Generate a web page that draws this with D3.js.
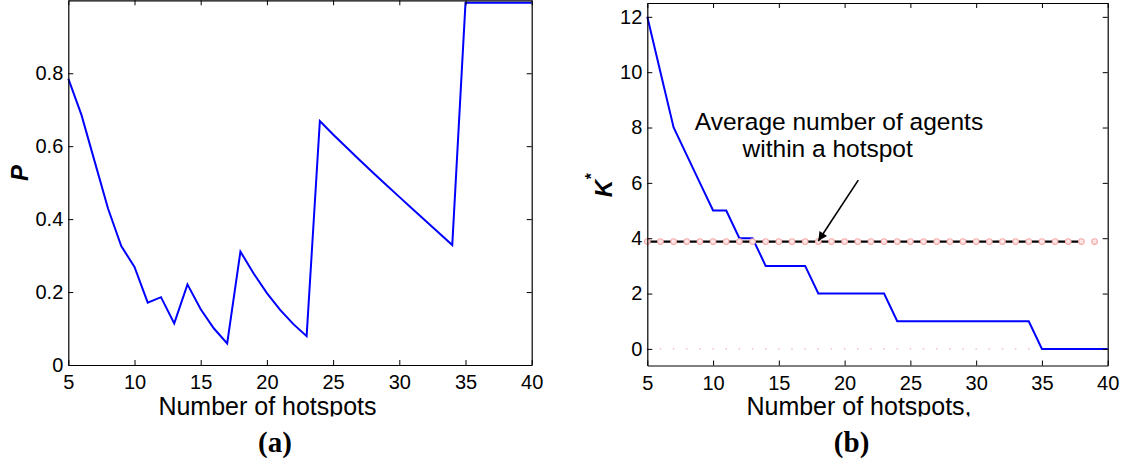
<!DOCTYPE html>
<html>
<head>
<meta charset="utf-8">
<script src="https://cdn.jsdelivr.net/npm/d3@7"></script>
<style>
  html, body { margin: 0; padding: 0; background: #fff; }
  svg { display: block; }
  .tick text { font-family: "Liberation Sans", Arial, sans-serif; font-size: 20px; fill: #000; }
  .tick line { stroke: #000; stroke-width: 1; }
  .domain { stroke: #000; stroke-width: 1.2; }
</style>
</head>
<body>
<script>
// Number of hotspots on the horizontal axis of both panels
const hotspots = [5, 6, 7, 8, 9, 10, 11, 12, 13, 14, 15, 16, 17, 18, 19, 20, 21, 22,
  23, 24, 25, 26, 27, 28, 29, 30, 31, 32, 33, 34, 35, 36, 37, 38, 39, 40];

// (a) probability P
const pValues = [0.785, 0.685, 0.557, 0.429, 0.326, 0.269, 0.171, 0.186, 0.114, 0.221,
  0.153, 0.100, 0.059, 0.311, 0.251, 0.197, 0.151, 0.112, 0.079, 0.669,
  0.632, 0.597, 0.562, 0.528, 0.494, 0.461, 0.428, 0.395, 0.362, 0.329,
  0.993, 0.993, 0.993, 0.993, 0.993, 0.993];

// (b) optimal K*
const kValues = [12, 10, 8, 7, 6, 5, 5, 4, 4, 3, 3, 3, 3, 2, 2, 2, 2, 2, 2, 1,
  1, 1, 1, 1, 1, 1, 1, 1, 1, 1, 0, 0, 0, 0, 0, 0];

// Average number of agents within a hotspot
const avgAgents = 3.88;
const avgLineHotspots = [5, 38];
const avgMarkerHotspots = [5, 6, 7, 8, 9, 10, 11, 12, 13, 14, 15, 16, 17, 18, 19, 20, 21, 22,
  23, 24, 25, 26, 27, 28, 29, 30, 31, 32, 33, 34, 35, 36, 37, 38, 39];
const zeroDotHotspots = [5, 6, 7, 8, 9, 10, 11, 12, 13, 14, 15, 16, 17, 18, 19, 20, 21, 22,
  23, 24, 25, 26, 27, 28, 29, 30, 31, 32, 33, 34, 35, 36, 37, 38, 39];

const xTicks = [5, 10, 15, 20, 25, 30, 35, 40];
const pTicks = [0, 0.2, 0.4, 0.6, 0.8];
const kTicks = [0, 2, 4, 6, 8, 10, 12];

const W = 1128, H = 465;
const svg = d3.select("body").append("svg").attr("width", W).attr("height", H);
svg.append("rect").attr("width", W).attr("height", H).attr("fill", "#fff");

// clip for the axis titles (lower edge of the figure panels)
svg.append("defs").append("clipPath").attr("id", "titleClip")
  .append("rect").attr("x", 0).attr("y", 0).attr("width", W).attr("height", 416.5);

const sans = '"Liberation Sans", Arial, sans-serif';
const serif = '"Liberation Serif", "Times New Roman", serif';

function frame(g, x, y, yTicks, fmt) {
  const [x0, x1] = x.range();
  const [y0, y1] = y.range();
  g.append("g").attr("transform", `translate(0,${y0})`)
    .call(d3.axisBottom(x).tickValues(xTicks).tickSizeInner(-5).tickSizeOuter(0).tickPadding(10));
  g.append("g").attr("transform", `translate(0,${y1})`)
    .call(d3.axisTop(x).tickValues(xTicks).tickSizeInner(-5).tickSizeOuter(0).tickFormat(""));
  g.append("g").attr("transform", `translate(${x0},0)`)
    .call(d3.axisLeft(y).tickValues(yTicks).tickSizeInner(-5).tickSizeOuter(0).tickPadding(5).tickFormat(fmt));
  g.append("g").attr("transform", `translate(${x1},0)`)
    .call(d3.axisRight(y).tickValues(yTicks).tickSizeInner(-5).tickSizeOuter(0).tickFormat(""));
}

// ---------- panel (a) ----------
const xA = d3.scaleLinear().domain([5, 40]).range([68.3, 531.7]);
const yA = d3.scaleLinear().domain([0, 1]).range([365, 0.3]);
const gA = svg.append("g");

gA.append("path")
  .datum(hotspots.map((h, i) => [h, pValues[i]]))
  .attr("fill", "none").attr("stroke", "#0000ff").attr("stroke-width", 2)
  .attr("stroke-linejoin", "miter")
  .attr("d", d3.line().x(d => xA(d[0])).y(d => yA(d[1])));

frame(gA, xA, yA, pTicks, d => d === 0 ? "0" : d3.format(".1f")(d));

gA.append("text")
  .attr("transform", `translate(28,173) rotate(-90)`)
  .attr("text-anchor", "middle")
  .style("font-family", sans).style("font-size", "24px")
  .style("font-weight", "bold").style("font-style", "italic")
  .text("P");

gA.append("text")
  .attr("clip-path", "url(#titleClip)")
  .attr("x", 267.5).attr("y", 414.5).attr("text-anchor", "middle")
  .style("font-family", sans).style("font-size", "25px")
  .text("Number of hotspots");

gA.append("text")
  .attr("x", 275).attr("y", 452).attr("text-anchor", "middle")
  .style("font-family", serif).style("font-size", "29px").style("font-weight", "bold")
  .text("(a)");

// ---------- panel (b) ----------
const xB = d3.scaleLinear().domain([5, 40]).range([647.3, 1107.7]);
const yB = d3.scaleLinear().domain([-0.6, 12.5]).range([365.5, 3]);
const gB = svg.append("g");

// faint reference dots along zero
gB.selectAll("circle.zero").data(zeroDotHotspots).join("circle")
  .attr("class", "zero")
  .attr("cx", d => xB(d)).attr("cy", yB(0)).attr("r", 0.9)
  .attr("fill", "#f6c6c6");

gB.append("path")
  .datum(hotspots.map((h, i) => [h, kValues[i]]))
  .attr("fill", "none").attr("stroke", "#0000ff").attr("stroke-width", 2)
  .attr("d", d3.line().x(d => xB(d[0])).y(d => yB(d[1])));

gB.append("path")
  .datum(avgLineHotspots.map(h => [h, avgAgents]))
  .attr("fill", "none").attr("stroke", "#000").attr("stroke-width", 2.2)
  .attr("d", d3.line().x(d => xB(d[0])).y(d => yB(d[1])));

gB.selectAll("circle.avg").data(avgMarkerHotspots).join("circle")
  .attr("class", "avg")
  .attr("cx", d => xB(d)).attr("cy", yB(avgAgents)).attr("r", 2.8)
  .attr("fill", "#fde6e6").attr("stroke", "#f6a9a9").attr("stroke-width", 1.1);

frame(gB, xB, yB, kTicks, d3.format("d"));

// annotation and arrow
svg.append("defs").append("marker")
  .attr("id", "arrowHead").attr("viewBox", "0 0 10 10")
  .attr("refX", 10).attr("refY", 5)
  .attr("markerWidth", 12).attr("markerHeight", 9)
  .attr("markerUnits", "userSpaceOnUse")
  .attr("orient", "auto")
  .append("path").attr("d", "M0,0 L10,5 L0,10 Z").attr("fill", "#000");

gB.append("line")
  .attr("x1", xB(21.04)).attr("y1", yB(6.1))
  .attr("x2", xB(18)).attr("y2", yB(avgAgents) - 0.5)
  .attr("stroke", "#000").attr("stroke-width", 1.6)
  .attr("marker-end", "url(#arrowHead)");

gB.append("text")
  .attr("x", 839).attr("y", 130).attr("text-anchor", "middle")
  .style("font-family", sans).style("font-size", "24.5px")
  .text("Average number of agents");
gB.append("text")
  .attr("x", 827.7).attr("y", 156.7).attr("text-anchor", "middle")
  .style("font-family", sans).style("font-size", "24.5px")
  .text("within a hotspot");

const kLabel = gB.append("text")
  .attr("transform", `translate(611.5,185.5) rotate(-90)`)
  .attr("text-anchor", "middle")
  .style("font-family", sans).style("font-size", "24px")
  .style("font-weight", "bold").style("font-style", "italic");
kLabel.append("tspan").text("K");
kLabel.append("tspan").attr("dy", -15).style("font-size", "16px").text("*");

gB.append("text")
  .attr("clip-path", "url(#titleClip)")
  .attr("x", 859).attr("y", 415).attr("text-anchor", "middle")
  .style("font-family", sans).style("font-size", "25px")
  .text("Number of hotspots,");

gB.append("text")
  .attr("x", 851.6).attr("y", 452).attr("text-anchor", "middle")
  .style("font-family", serif).style("font-size", "29px").style("font-weight", "bold")
  .text("(b)");
</script>
</body>
</html>
